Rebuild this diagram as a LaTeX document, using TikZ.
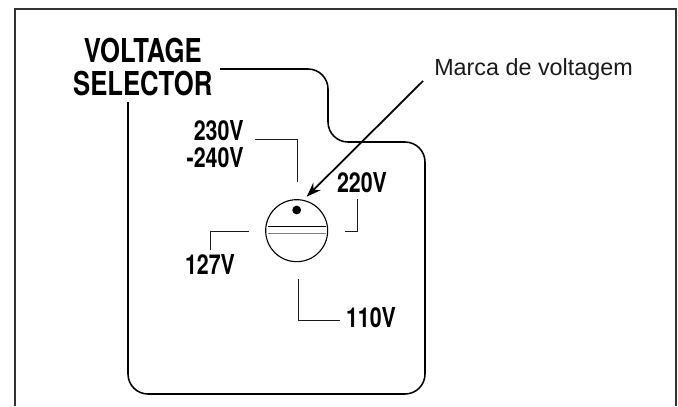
\documentclass[tikz,border=0pt]{standalone}
\usepackage{fontspec}
\setmainfont{Liberation Sans}
\newfontfamily\condfont[FakeStretch=0.78]{TeX Gyre Heros}
\usetikzlibrary{arrows.meta,positioning}
\definecolor{frm}{HTML}{333333}
\definecolor{ink}{HTML}{1A1A1A}
\tikzset{
  frameline/.style={frm, line width=1.8pt},
  bodyline/.style={black, line width=1.1pt, rounded corners=0.5cm},
  leader/.style={ink, line width=0.65pt},
  markarr/.style={-{Stealth[length=3.6mm,width=2.6mm]}, black, line width=1.25pt},
  biglab/.style={font=\condfont\bfseries\fontsize{23.4}{23.5}\selectfont, inner sep=0pt, align=center},
  vlab/.style={font=\condfont\bfseries\fontsize{19.5}{19.2}\selectfont, inner sep=0pt},
  marcalab/.style={font=\fontsize{16.6}{18}\selectfont, text=ink, inner xsep=0.275cm, inner ysep=0pt},
}
\begin{document}
\begin{tikzpicture}[x=1cm,y=1cm]
\useasboundingbox (0,0) rectangle (16.95,10.15);

% ============ outer frame, open at the bottom ===============
\draw[frameline] (0.375,0) -- (0.375,9.925) -- (16.9,9.925) -- (16.9,0);

% ============ outline of the unit ===============
\draw[bodyline] (5.5,8.425) -- (8.2,8.425) -- (8.2,6.6) -- (10.625,6.6)
  -- (10.625,0.3) -- (3.2,0.3) -- (3.2,7.6);

% selector knob
\node[draw=black, line width=0.8pt, circle, minimum size=1.55cm, inner sep=0pt] (knob) at (7.417,4.383) {};
\fill[black] (7.417,4.9) circle (0.11);
\draw[black, line width=0.7pt] (6.69,4.49) -- (8.15,4.49);
\draw[gray, line width=1.1pt] (6.69,4.31) -- (8.15,4.31);

% ============ labels ===============
\node[biglab, anchor=base] (selector) at (3.57,7.775) {VOLTAGE\\[0.825cm-23.5pt]SELECTOR};
\node[vlab, align=right, anchor=base east] (lab230) at (6.1,5.975) {230V\\-240V};
\node[vlab, anchor=base] (lab127) at (5.25,3.3) {127V};
\node[vlab, anchor=base] (lab220) at (9.05,5.35) {220V};
\node[vlab, anchor=base] (lab110) at (9.275,1.975) {110V};
\node[marcalab, anchor=south west] (marca) at (10.575,8.125) {Marca de voltagem};

% leader ends
\coordinate (lead230) at (6.375,6.6625);
\coordinate (knob230) at (7.425,5.6);
\coordinate (lead127) at (5.25,3.9);
\coordinate (knob127) at (6.225,4.375);
\coordinate (lead220) at (8.925,5.175);
\coordinate (knob220) at (8.625,4.375);
\coordinate (knob110) at (7.45,3.175);
\coordinate (lead110) at (8.5,2.15);
\coordinate (markTip) at (7.667,5.233);

\draw[leader] (lead230) -| (knob230);
\draw[leader] (lead127) |- (knob127);
\draw[leader] (lead220) |- (knob220);
\draw[leader] (knob110) |- (lead110);
\draw[markarr] (marca.south west) -- (markTip);

\end{tikzpicture}
\end{document}
